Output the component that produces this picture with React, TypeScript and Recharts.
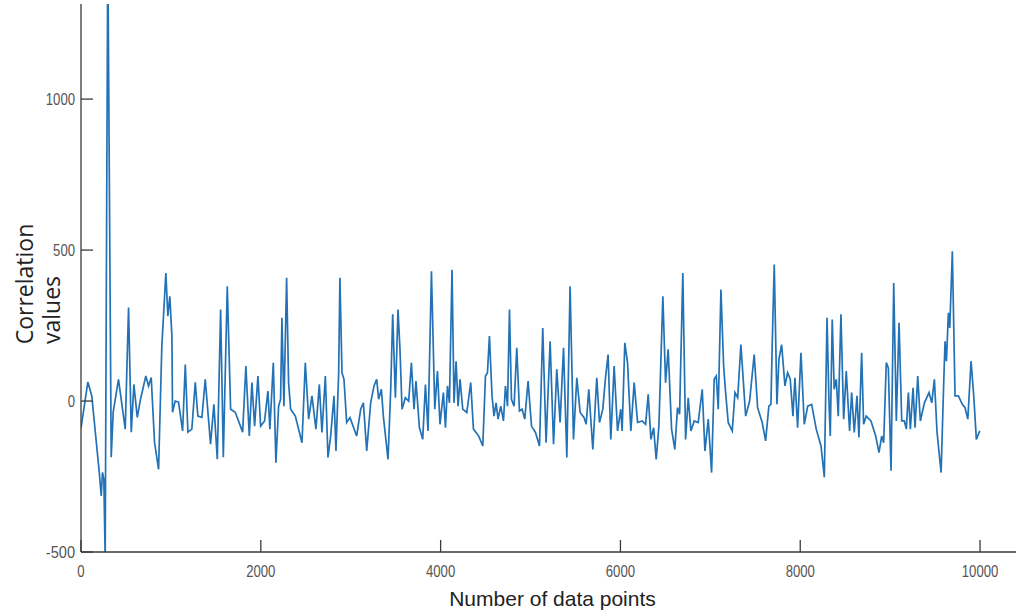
import React from 'react';
import { LineChart, Line, XAxis, YAxis, Label } from 'recharts';

// sample position (number of data points) for each reading
const samplePos = [
  0, 76, 120, 203, 225, 239, 254, 269, 298, 336,
  358, 417, 492, 529, 559, 588, 626, 662, 721, 751,
  781, 818, 863, 899, 944, 966, 988, 1011, 1018, 1048,
  1085, 1130, 1160, 1189, 1233, 1271, 1300, 1345, 1382, 1441,
  1478, 1516, 1553, 1583, 1627, 1664, 1716, 1798, 1834, 1872,
  1901, 1931, 1968, 1998, 2042, 2079, 2101, 2139, 2168, 2198,
  2220, 2235, 2257, 2287, 2309, 2332, 2384, 2458, 2495, 2532,
  2569, 2613, 2651, 2680, 2718, 2747, 2777, 2814, 2836, 2866,
  2880, 2903, 2925, 2955, 2992, 3066, 3111, 3141, 3178, 3222,
  3259, 3289, 3311, 3341, 3363, 3415, 3445, 3467, 3497, 3526,
  3548, 3571, 3608, 3645, 3675, 3704, 3726, 3764, 3801, 3831,
  3860, 3898, 3935, 3965, 3993, 4031, 4054, 4076, 4098, 4127,
  4149, 4172, 4194, 4216, 4246, 4291, 4335, 4365, 4424, 4469,
  4499, 4521, 4543, 4572, 4594, 4617, 4639, 4669, 4699, 4721,
  4744, 4766, 4788, 4817, 4847, 4877, 4906, 4936, 4973, 5011,
  5055, 5100, 5136, 5173, 5218, 5256, 5292, 5329, 5367, 5404,
  5440, 5478, 5515, 5552, 5596, 5619, 5648, 5693, 5737, 5767,
  5804, 5834, 5863, 5893, 5930, 5968, 6004, 6019, 6049, 6079,
  6116, 6153, 6191, 6242, 6280, 6309, 6339, 6369, 6398, 6428,
  6472, 6502, 6531, 6569, 6605, 6635, 6658, 6694, 6725, 6754,
  6784, 6821, 6865, 6910, 6940, 6977, 7014, 7043, 7066, 7088,
  7118, 7148, 7170, 7199, 7244, 7274, 7304, 7340, 7393, 7437,
  7488, 7526, 7577, 7615, 7651, 7674, 7688, 7711, 7741, 7763,
  7793, 7830, 7860, 7889, 7919, 7941, 7971, 8008, 8045, 8083,
  8127, 8178, 8231, 8268, 8298, 8320, 8334, 8356, 8378, 8401,
  8423, 8453, 8483, 8512, 8549, 8572, 8601, 8631, 8653, 8683,
  8705, 8734, 8787, 8839, 8876, 8906, 8928, 8957, 8980, 9010,
  9040, 9069, 9099, 9129, 9158, 9180, 9203, 9225, 9255, 9277,
  9307, 9336, 9381, 9433, 9463, 9492, 9522, 9567, 9597, 9611,
  9626, 9648, 9663, 9692, 9722, 9759, 9803, 9833, 9864, 9900,
  9930, 9959, 9997,
];

// correlation value read at each position
const correlation = [
  -90, 63, 17, -236, -314, -236, -259, -520, 1500, -186,
  -37, 72, -93, 310, -103, 55, -54, 6, 83, 50,
  78, -137, -226, 182, 424, 281, 347, 215, -37, 0,
  -4, -99, 121, -103, -93, 62, -50, -54, 72, -143,
  -11, -193, 303, -186, 380, -27, -37, -103, 116, -116,
  61, -83, 83, -83, -66, 33, -93, 127, -204, -17,
  6, 276, -17, 408, 61, -27, -50, -138, 127, -60,
  17, -93, 55, -104, 83, -187, -116, 17, -165, 94,
  408, 94, 72, -71, -55, -116, -27, -6, -165, -6,
  50, 72, 6, 39, -50, -193, 39, 287, 11, 303,
  171, -27, 11, 0, 127, -27, 66, -88, -127, 55,
  -99, 430, -27, 99, -77, 28, -88, 50, -6, 435,
  -6, 132, -17, 72, -27, -38, 61, -93, -116, -149,
  83, 94, 215, 17, -50, -6, -60, -17, -66, 50,
  -17, 303, 6, -17, 176, -33, -27, -60, 66, -83,
  -104, -149, 242, -138, 198, -143, 105, -71, 176, -187,
  380, -127, 77, -38, -55, -77, 39, -160, 77, -71,
  -27, 77, 154, -127, 116, -99, -27, -99, 193, 127,
  -99, 61, -71, -66, -77, 22, -127, -88, -193, -83,
  347, 61, 171, -93, -160, -22, -44, 424, -127, 11,
  -99, -66, -71, 39, -165, -60, -237, 72, 83, -27,
  369, 116, 28, -71, -99, 28, 11, 187, -50, 0,
  154, -22, -71, -132, -17, -11, 182, 452, -11, 138,
  187, 50, 94, 72, -50, 77, -88, 160, -77, -17,
  -11, -93, -149, -252, 276, -6, -116, 270, 39, 72,
  -50, 287, -60, 99, -99, 28, -104, 17, -121, 160,
  -77, -50, -66, -116, -171, -116, -138, 127, 110, -231,
  391, -66, 259, -66, -66, -93, 28, -93, 44, -88,
  83, -66, -6, 28, -6, 72, -104, -237, 72, 198,
  132, 292, 242, 496, 17, 17, -11, -22, -60, 132,
  17, -127, -99,
];

const xTicks = [0, 2000, 4000, 6000, 8000, 10000];
const yTicks = [-500, 0, 500, 1000];

const data = samplePos.map((x, i) => ({ x, value: correlation[i] }));

const axisColor = '#3a3a3a';

// matlab-ish narrow tick labels
const NarrowTick = ({ x, y, payload, textAnchor, dy }: any) => {
  const s = String(payload.value);
  return (
    <text
      x={x}
      y={y}
      dy={dy}
      textAnchor={textAnchor}
      fill="#555"
      fontSize={16}
      fontFamily='"Liberation Sans", Arial, sans-serif'
      textLength={s.length * 7.3}
      lengthAdjust="spacingAndGlyphs"
    >
      {s}
    </text>
  );
};

const XTick = (props: any) => <NarrowTick {...props} dy="0.71em" />;
const YTick = (props: any) => <NarrowTick {...props} dy="0.355em" />;

const YTitle = ({ viewBox }: any) => {
  const cy = viewBox.y + viewBox.height / 2;
  return (
    <g fontFamily='"Open Sans", "Noto Sans", sans-serif' fontSize={23} fill="#222">
      <text x={33} y={cy + 6} transform={`rotate(-90, 33, ${cy + 6})`} textAnchor="middle">
        Correlation
      </text>
      <text x={60} y={cy + 32} transform={`rotate(-90, 60, ${cy + 32})`} textAnchor="middle">
        values
      </text>
    </g>
  );
};

const XTitle = ({ viewBox }: any) => (
  <text
    x={viewBox.x + viewBox.width / 2 + 4}
    y={viewBox.y + 54}
    textAnchor="middle"
    fontFamily='"Liberation Sans", Arial, sans-serif'
    fontSize={21}
    fill="#222"
  >
    Number of data points
  </text>
);

export default function App() {
  return (
    <div style={{ position: 'absolute', left: 0, top: 0, width: 1016, height: 615, background: '#fff' }}>
      <LineChart width={1016} height={615} data={data} margin={{ top: 4, right: 0, left: 0, bottom: 0 }}>
        <XAxis
          dataKey="x"
          type="number"
          domain={[0, 10400]}
          ticks={xTicks}
          allowDataOverflow
          height={63}
          tickSize={-12}
          tickMargin={26}
          axisLine={{ stroke: axisColor, strokeWidth: 1.3 }}
          tickLine={{ stroke: axisColor, strokeWidth: 1.3 }}
          tick={XTick}
        >
          <Label content={XTitle} />
        </XAxis>
        <YAxis
          type="number"
          domain={[-500, 1315]}
          ticks={yTicks}
          allowDataOverflow
          width={81}
          tickSize={-12}
          tickMargin={18}
          axisLine={{ stroke: axisColor, strokeWidth: 1.3 }}
          tickLine={{ stroke: axisColor, strokeWidth: 1.3 }}
          tick={YTick}
        >
          <Label content={YTitle} />
        </YAxis>
        <Line
          type="linear"
          dataKey="value"
          stroke="#2372b5"
          strokeWidth={1.7}
          dot={false}
          isAnimationActive={false}
        />
      </LineChart>
    </div>
  );
}
